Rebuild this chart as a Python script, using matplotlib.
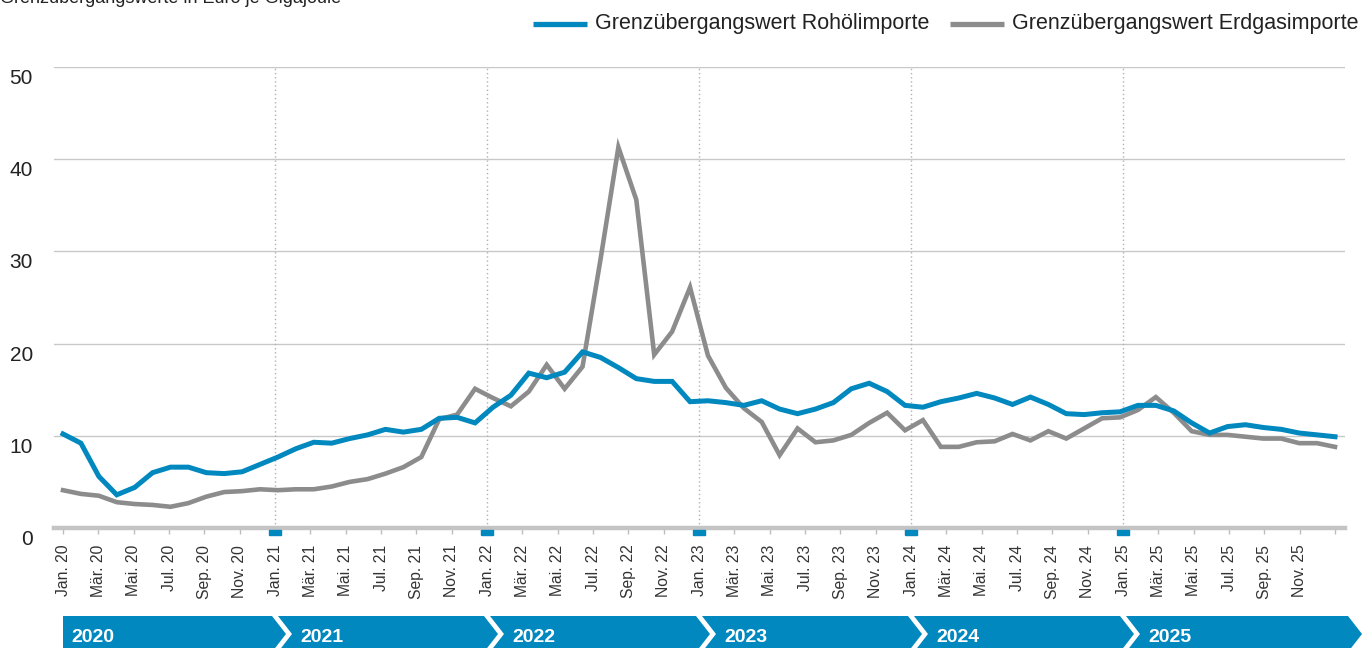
import matplotlib
matplotlib.use("Agg")
import matplotlib.pyplot as plt
from matplotlib import transforms
from matplotlib.lines import Line2D
from matplotlib.patches import Polygon

# ---- data -------------------------------------------------------------
month_abbr = ["Jan.", "Feb.", "Mär.", "Apr.", "Mai.", "Jun.",
              "Jul.", "Aug.", "Sep.", "Okt.", "Nov.", "Dez."]
year_short = ["20", "21", "22", "23", "24", "25"]
year_labels = ["2020", "2021", "2022", "2023", "2024", "2025"]

oil = [10.2, 9.2, 5.6, 3.6, 4.4, 6.0, 6.6, 6.6, 6.0, 5.9, 6.1, 6.9,
       7.7, 8.6, 9.3, 9.2, 9.7, 10.1, 10.7, 10.4, 10.7, 11.9, 12.0, 11.4,
       13.1, 14.4, 16.8, 16.3, 16.9, 19.1, 18.5, 17.4, 16.2, 15.9, 15.9, 13.7,
       13.8, 13.6, 13.3, 13.8, 12.9, 12.4, 12.9, 13.6, 15.1, 15.7, 14.8, 13.3,
       13.1, 13.7, 14.1, 14.6, 14.1, 13.4, 14.2, 13.4, 12.4, 12.3, 12.5, 12.6,
       13.3, 13.3, 12.7, 11.4, 10.3, 11.0, 11.2, 10.9, 10.7, 10.3, 10.1, 9.9]
gas = [4.1, 3.7, 3.5, 2.8, 2.6, 2.5, 2.3, 2.7, 3.4, 3.9, 4.0, 4.2,
       4.1, 4.2, 4.2, 4.5, 5.0, 5.3, 5.9, 6.6, 7.7, 11.8, 12.3, 15.1,
       14.1, 13.2, 14.8, 17.7, 15.1, 17.5, 29.1, 41.3, 35.6, 18.8, 21.3, 26.1,
       18.7, 15.2, 13.0, 11.5, 7.9, 10.8, 9.3, 9.5, 10.1, 11.4, 12.5, 10.6,
       11.7, 8.8, 8.8, 9.3, 9.4, 10.2, 9.5, 10.5, 9.7, 10.8, 11.9, 12.0,
       12.8, 14.2, 12.5, 10.5, 10.1, 10.1, 9.9, 9.7, 9.7, 9.2, 9.2, 8.8]
legend_labels = ["Grenzübergangswert Rohölimporte", "Grenzübergangswert Erdgasimporte"]
y_ticks = [0, 10, 20, 30, 40, 50]

BLUE = "#0088bf"
GREY = "#8c8c8c"
TEXT = "#222222"

plt.rcParams["font.family"] = ["Liberation Sans", "DejaVu Sans"]

W, H = 1362, 648
fig = plt.figure(figsize=(W / 100, H / 100), dpi=100)

ax_left, ax_right, ax_top, ax_bottom = 54, 1345, 67, 528
ax = fig.add_axes([ax_left / W, 1 - ax_bottom / H,
                   (ax_right - ax_left) / W, (ax_bottom - ax_top) / H])

n = len(oil)
x = list(range(n))
# monthly ticks run Jan 20 .. Jan 26, the data Jan 20 .. Dec 25 fills the same span
n_ticks = 73
tick_x = [j * (n - 1) / (n_ticks - 1) for j in range(n_ticks)]
px_per_unit = (1335 - 63) / (n - 1)
ax.set_xlim(-(63 - ax_left) / px_per_unit, (n - 1) + (ax_right - 1335) / px_per_unit)
ax.set_ylim(0, 50)

for v in y_ticks[1:]:
    ax.axhline(v, color="#c8c8c8", lw=1.0, zorder=1)
for j in range(12, n_ticks - 1, 12):
    ax.axvline(tick_x[j], color="#b0b0b0", lw=1.0, ls=(0, (1, 2)), zorder=1)
ax.axhline(0, color="#c4c4c4", lw=3.2, zorder=2, clip_on=False)

ax.plot(x, gas, color=GREY, lw=3.3, zorder=3, solid_joinstyle="miter")
ax.plot(x, oil, color=BLUE, lw=3.6, zorder=4, solid_joinstyle="miter")

for s in ax.spines.values():
    s.set_visible(False)

major = list(range(0, n_ticks, 2))
labels = []
for j in major:
    if j >= 72:
        labels.append("")
    else:
        labels.append(f"{month_abbr[j % 12]} {year_short[j // 12]}")
ax.set_xticks([tick_x[j] for j in major])
ax.set_xticklabels(labels, rotation=90, fontsize=11.3, color="#333333", va="top")
ax.tick_params(axis="x", length=4, width=1, color="#bdbdbd", pad=8)
ax.set_yticks([])

# year markers on the axis
rect = [(-1, -0.45), (1, -0.45), (1, 0.45), (-1, 0.45), (-1, -0.45)]
ax.plot([tick_x[j] for j in range(12, n_ticks - 1, 12)], [-0.38] * 5, ls="none",
        marker=rect, markersize=8, color=BLUE, clip_on=False, zorder=5)

# y labels sit below their gridlines
ytrans = transforms.offset_copy(ax.get_yaxis_transform(), fig, x=-21, y=-17, units="dots")
for v in y_ticks:
    ax.text(0, v, str(v), transform=ytrans, ha="right", va="baseline",
            fontsize=15, color=TEXT)

# title (cut at the top edge)
fig.text(0, 1 - 3 / H, "Grenzübergangswerte in Euro je Gigajoule",
         ha="left", va="baseline", fontsize=13, color=TEXT)

# legend, laid out from the right edge
renderer = fig.canvas.get_renderer()
right_edge = 1358
y_leg = 1 - 24 / H
for label, color in reversed(list(zip(legend_labels, [BLUE, GREY]))):
    t = fig.text(right_edge / W, y_leg, label, ha="right", va="center",
                 fontsize=15.5, color=TEXT)
    text_left = right_edge - t.get_window_extent(renderer).width
    fig.add_artist(Line2D([(text_left - 62) / W, (text_left - 8) / W], [1 - 24 / H] * 2,
                          transform=fig.transFigure, color=color, lw=3.8,
                          solid_capstyle="butt"))
    right_edge = text_left - 62 - 20

# year band with chevrons
band = fig.add_axes([ax_left / W, 0, (ax_right - ax_left) / W, 48 / H])
band.set_xlim(ax.get_xlim())
band.set_ylim(648, 600)
band.axis("off")
top, mid, bot = 616, 634, 652
d = 14 / px_per_unit
g = 3 / px_per_unit
bounds = [tick_x[j] for j in range(0, n_ticks - 1, 12)] + [(1351 - 63) / px_per_unit]
for k, lab in enumerate(year_labels):
    left, right = bounds[k], bounds[k + 1]
    if k == 0:
        xl_top, xl_mid = left, left
    else:
        xl_top, xl_mid = left + g, left + g + d
    xr_top, xr_mid = right - g, right - g + d
    poly = Polygon([(xl_top, top), (xr_top, top), (xr_mid, mid), (xr_top, bot),
                    (xl_top, bot), (xl_mid, mid)], closed=True, facecolor=BLUE,
                   edgecolor="none", clip_on=False)
    band.add_patch(poly)
    band.text(xl_mid + 8 / px_per_unit, 642, lab, ha="left", va="baseline",
              fontsize=14, fontweight="bold", color="white")

fig.savefig("out.png", dpi=100)
